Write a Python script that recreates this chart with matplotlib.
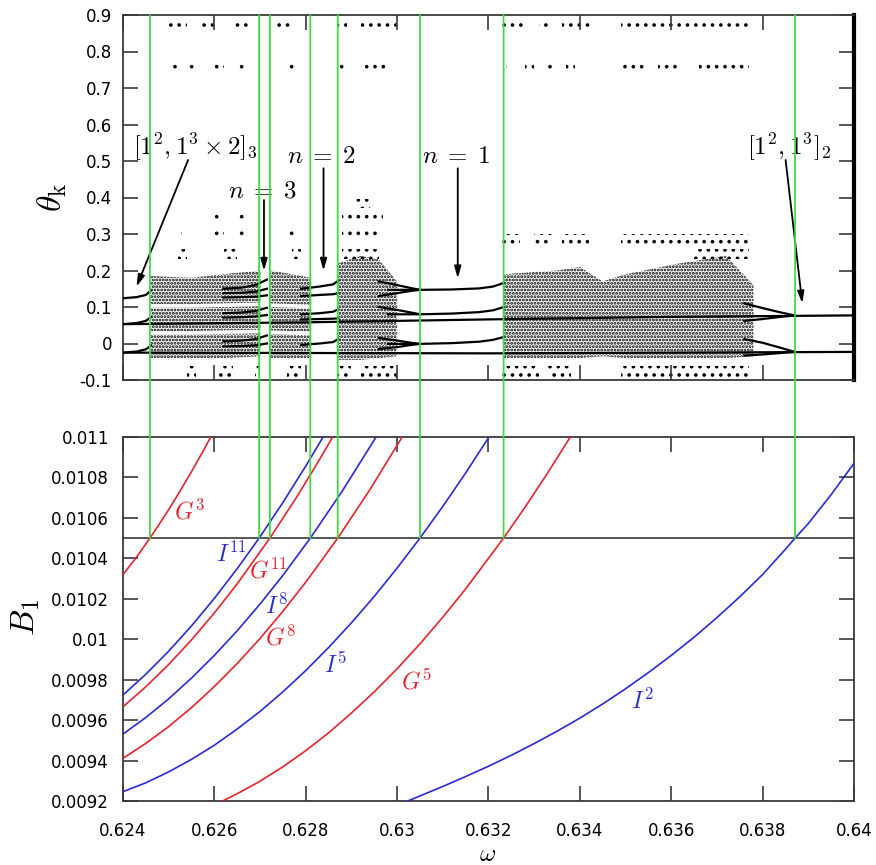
import numpy as np
import matplotlib
matplotlib.use('Agg')
import matplotlib.pyplot as plt
from matplotlib.patches import ConnectionPatch

plt.rcParams['mathtext.fontset'] = 'cm'
plt.rcParams['font.family'] = 'DejaVu Sans'
plt.rcParams['hatch.linewidth'] = 1.4

# ---------------- bottom panel: bifurcation curves (omega, B1) ----------------
g3_w = [0.6240, 0.62425, 0.6245, 0.62475, 0.6250, 0.62525, 0.6255, 0.62575, 0.62592]
g3_b = [0.01032, 0.010392, 0.010471, 0.010554, 0.010641, 0.010733, 0.010829, 0.010929, 0.01100]
i11_w = [0.6240, 0.6245, 0.6250, 0.6255, 0.6260, 0.6265, 0.62698, 0.6275, 0.6280, 0.62838]
i11_b = [0.009724, 0.009827, 0.009941, 0.010066, 0.010202, 0.010349, 0.0105, 0.010676, 0.010856, 0.011]
g11_w = [0.6240, 0.6245, 0.6250, 0.6255, 0.6260, 0.6265, 0.627215, 0.6278, 0.6282, 0.62859]
g11_b = [0.009666, 0.009765, 0.009875, 0.009997, 0.010130, 0.010274, 0.0105, 0.010702, 0.01085, 0.011]
i8_w = [0.6240, 0.6245, 0.6250, 0.6255, 0.6260, 0.6265, 0.6270, 0.6275, 0.6281, 0.6288, 0.62954]
i8_b = [0.009531, 0.009613, 0.009705, 0.009808, 0.009920, 0.010042, 0.010174, 0.010316, 0.0105,
        0.010733, 0.011]
g8_w = [0.6240, 0.6245, 0.6250, 0.6255, 0.6260, 0.6265, 0.6270, 0.6275, 0.6280, 0.6287, 0.6294, 0.63011]
g8_b = [0.009411, 0.009485, 0.009568, 0.009662, 0.009766, 0.00988, 0.010004, 0.010138, 0.010282,
        0.0105, 0.010738, 0.011]
i5_w = [0.6240, 0.6245, 0.6250, 0.6255, 0.6260, 0.6265, 0.6270, 0.6275, 0.6280, 0.6285, 0.6290,
        0.6295, 0.6300, 0.6305, 0.6310, 0.6315, 0.63201]
i5_b = [0.009246, 0.00929, 0.009344, 0.009406, 0.009476, 0.009556, 0.009643, 0.00974, 0.009845,
        0.009959, 0.010081, 0.010212, 0.010352, 0.0105, 0.010657, 0.010822, 0.011]
g5_w = [0.62618, 0.6265, 0.6270, 0.6275, 0.6280, 0.6285, 0.6290, 0.6295, 0.6300, 0.6305, 0.6310,
        0.6315, 0.63233, 0.6328, 0.6333, 0.63379]
g5_b = [0.0092, 0.009236, 0.009298, 0.009369, 0.009449, 0.009537, 0.009635, 0.00974, 0.009854,
        0.009977, 0.010109, 0.010249, 0.0105, 0.010653, 0.010824, 0.011]
i2_w = [0.63023, 0.6305, 0.6310, 0.6315, 0.6320, 0.6325, 0.6330, 0.6335, 0.6340, 0.6345, 0.6350,
        0.6355, 0.6360, 0.6365, 0.6370, 0.6375, 0.6380, 0.6385, 0.63871, 0.6390, 0.6395, 0.6400]
i2_b = [0.0092, 0.009225, 0.009272, 0.009321, 0.009372, 0.009426, 0.009484, 0.009545, 0.00961,
        0.00968, 0.009755, 0.009835, 0.00992, 0.01001, 0.010107, 0.01021, 0.01032, 0.010445,
        0.0105, 0.010572, 0.010715, 0.01087]

b_level = 0.0105
crossings = [0.62459, 0.62698, 0.627215, 0.6281, 0.6287, 0.6305, 0.63233, 0.63871]

curve_labels = ['$G^3$', '$I^{11}$', '$G^{11}$', '$I^8$', '$G^8$', '$I^5$', '$G^5$', '$I^2$']
label_w = [0.62545, 0.62636, 0.62718, 0.62736, 0.62746, 0.62865, 0.63043, 0.63536]
label_b = [0.010629, 0.010421, 0.010337, 0.010164, 0.010009, 0.009873, 0.009791, 0.009695]

# ---------------- top panel: periodic branches (omega, theta) ----------------
long_w = [0.6240, 0.6280, 0.6320, 0.6360, 0.6400]
long_theta = [[0.053, 0.058, 0.066, 0.073, 0.077],
              [-0.025, -0.026, -0.027, -0.025, -0.023]]

winA_w = [0.6240, 0.6243, 0.6245, 0.62461]
winA_theta = [[0.124, 0.127, 0.133, 0.145],
              [0.053, 0.056, 0.062, 0.072],
              [-0.025, -0.022, -0.016, -0.006]]

win3_w = [0.6262, 0.6266, 0.6269, 0.62715]
win3_theta = [[0.150, 0.153, 0.160, 0.175],
              [0.138, 0.139, 0.142, 0.150],
              [0.126, 0.127, 0.128, 0.132],
              [0.083, 0.085, 0.089, 0.098],
              [0.071, 0.072, 0.074, 0.078],
              [0.006, 0.008, 0.012, 0.022],
              [-0.008, -0.007, -0.005, 0.000]]

win2_w = [0.6279, 0.6283, 0.6286, 0.62871]
win2_theta = [[0.150, 0.156, 0.162, 0.172],
              [0.130, 0.133, 0.135, 0.138],
              [0.080, 0.083, 0.087, 0.094],
              [0.066, 0.067, 0.068, 0.069],
              [-0.004, 0.000, 0.004, 0.012]]

win1_w = [0.6298, 0.6305, 0.6312, 0.6318, 0.6321, 0.63234]
win1_theta = [[0.147, 0.147, 0.148, 0.151, 0.156, 0.166],
              [0.080, 0.080, 0.082, 0.086, 0.091, 0.100],
              [-0.001, -0.001, 0.001, 0.005, 0.010, 0.018]]

fan1_w = [0.6296, 0.6300, 0.6303, 0.6305]
fan1_theta = [[0.170, 0.160, 0.152, 0.147],
              [0.130, 0.138, 0.144, 0.147],
              [0.100, 0.092, 0.085, 0.080],
              [0.015, 0.008, 0.002, -0.001],
              [-0.015, -0.010, -0.004, -0.001]]

fan2_w = [0.6376, 0.6380, 0.6384, 0.6387]
fan2_theta = [[0.110, 0.097, 0.085, 0.077],
              [0.062, 0.067, 0.073, 0.077],
              [0.012, 0.002, -0.012, -0.023],
              [-0.033, -0.030, -0.026, -0.023]]

# chaotic bands (omega, lower theta, upper theta); left bands split in three sub-bands
chaosB_w = [0.62461, 0.6255, 0.6262, 0.62701]
chaosB_sub = [([0.108, 0.108, 0.110, 0.112], [0.185, 0.180, 0.190, 0.200]),
              ([0.034, 0.034, 0.036, 0.038], [0.098, 0.098, 0.100, 0.102]),
              ([-0.040, -0.040, -0.040, -0.035], [0.024, 0.024, 0.026, 0.028])]
chaosD_w = [0.62722, 0.6277, 0.62812]
chaosD_sub = [([0.110, 0.108, 0.106], [0.200, 0.190, 0.180]),
              ([0.036, 0.034, 0.034], [0.100, 0.098, 0.096]),
              ([-0.040, -0.040, -0.040], [0.026, 0.024, 0.022])]
chaosF_w = [0.62871, 0.6292, 0.6296, 0.6300]
chaosF_lo = [-0.045, -0.045, -0.040, -0.035]
chaosF_hi = [0.220, 0.240, 0.230, 0.170]
chaosG_w = [0.63234, 0.6335, 0.6340, 0.6345, 0.6350, 0.6362, 0.6372, 0.6378]
chaosG_lo = [-0.040, -0.040, -0.040, -0.035, -0.040, -0.040, -0.040, -0.035]
chaosG_hi = [0.190, 0.200, 0.210, 0.170, 0.190, 0.220, 0.240, 0.160]

# sparse rows of iterates: clusters along omega for each theta strip
row87_w0 = [0.6250, 0.62565, 0.6264, 0.6273, 0.6287, 0.6292, 0.6323, 0.6331, 0.6336, 0.6349]
row87_w1 = [0.6254, 0.6261, 0.6268, 0.6277, 0.6289, 0.6300, 0.6328, 0.6334, 0.6343, 0.6377]
row87_t = (0.862, 0.888)
row75_w0 = [0.6251, 0.6254, 0.6259, 0.6265, 0.6276, 0.6287, 0.6293, 0.6323, 0.6328, 0.6333,
            0.6337, 0.6349, 0.6357, 0.6366]
row75_w1 = [0.6252, 0.6256, 0.6262, 0.6267, 0.6278, 0.6289, 0.6298, 0.6324, 0.6330, 0.6334,
            0.6339, 0.6354, 0.6362, 0.6377]
row75_t = (0.740, 0.770)
rowm8_w0 = [0.6254, 0.6261, 0.6269, 0.6276, 0.6287, 0.6292, 0.6323, 0.6333, 0.6349]
rowm8_w1 = [0.6256, 0.6264, 0.6270, 0.6279, 0.6290, 0.6300, 0.6331, 0.6338, 0.6377]
rowm8_t = (-0.095, -0.062)
row28_w0 = [0.6323, 0.6330, 0.6336, 0.6349]
row28_w1 = [0.6327, 0.6334, 0.6342, 0.6377]
row28_t = (0.265, 0.300)
row38_w0 = [0.6291]
row38_w1 = [0.6294]
row38_t = (0.370, 0.395)
row34_w0 = [0.6259, 0.6265, 0.6288]
row34_w1 = [0.6261, 0.6267, 0.6297]
row34_t = (0.330, 0.355)
row30_w0 = [0.6252, 0.6259, 0.6265, 0.6276, 0.6288]
row30_w1 = [0.6253, 0.6262, 0.6267, 0.6278, 0.6296]
row30_t = (0.285, 0.312)
row25_w0 = [0.6252, 0.6262, 0.6277, 0.6288, 0.6365]
row25_w1 = [0.6254, 0.6265, 0.6279, 0.6296, 0.6377]
row25_t = (0.232, 0.258)

# ---------------- figure ----------------
fig = plt.figure(figsize=(8.76, 8.65), dpi=100)
L, W = 123 / 876, 731 / 876
ax1 = fig.add_axes([L, (865 - 380) / 865, W, 365 / 865])
ax2 = fig.add_axes([L, (865 - 801) / 865, W, 364 / 865])

spine_c = '#3a3a3a'
green = '#45d845'
red = '#e3242b'
blue = '#2a2ad6'


def strip(ax, w0s, w1s, tt, hatch):
    for a, b in zip(w0s, w1s):
        ax.fill_between([a, b], [tt[0], tt[0]], [tt[1], tt[1]], facecolor='none',
                        edgecolor='black', hatch=hatch, linewidth=0, zorder=1)


for w0s, w1s, tt in [(row87_w0, row87_w1, row87_t), (row75_w0, row75_w1, row75_t),
                     (rowm8_w0, rowm8_w1, rowm8_t), (row28_w0, row28_w1, row28_t),
                     (row38_w0, row38_w1, row38_t), (row34_w0, row34_w1, row34_t),
                     (row30_w0, row30_w1, row30_t), (row25_w0, row25_w1, row25_t)]:
    strip(ax1, w0s, w1s, tt, '..')

bands = [(chaosB_w, lo, hi) for lo, hi in chaosB_sub]
bands += [(chaosD_w, lo, hi) for lo, hi in chaosD_sub]
bands += [(chaosF_w, chaosF_lo, chaosF_hi), (chaosG_w, chaosG_lo, chaosG_hi)]
for w, lo, hi in bands:
    ax1.fill_between(w, lo, hi, facecolor='none', edgecolor='black',
                     hatch='.....', linewidth=0, zorder=1)

for w, rows in [(long_w, long_theta), (winA_w, winA_theta), (win3_w, win3_theta),
                (win2_w, win2_theta), (win1_w, win1_theta), (fan1_w, fan1_theta),
                (fan2_w, fan2_theta)]:
    for r in rows:
        ax1.plot(w, r, color='black', lw=1.6, zorder=3)

ax1.set_xlim(0.624, 0.640)
ax1.set_ylim(-0.1, 0.9)
yt = np.round(np.arange(-0.1, 0.91, 0.1), 1)
ax1.set_yticks(yt)
ax1.set_yticklabels(['-0.1', '0', '0.1', '0.2', '0.3', '0.4', '0.5', '0.6', '0.7', '0.8', '0.9'])
ax1.set_xticks(np.arange(0.624, 0.6401, 0.002))
ax1.tick_params(axis='both', direction='in', length=11, width=1.2, colors=spine_c,
                top=True, right=True, labelbottom=False, labelsize=12, pad=8)
ax1.tick_params(axis='y', labelcolor='black')
for s in ax1.spines.values():
    s.set_color(spine_c)
    s.set_linewidth(1.3)
ax1.spines['right'].set_color('black')
ax1.spines['right'].set_linewidth(3.0)

# annotations in top panel
arrow_kw = dict(arrowstyle='-|>,head_length=0.7,head_width=0.2', color='black', lw=1.3,
                shrinkA=0, shrinkB=0)
tfs = 18
ax1.text(0.625585, 0.538, r'$[1^2,1^3\times 2]_3$', fontsize=tfs, ha='center', va='center')
ax1.annotate('', xy=(0.624295, 0.1556), xytext=(0.625425, 0.5027), arrowprops=arrow_kw)
ax1.text(0.62705, 0.4205, r'$n\;=\;3$', fontsize=tfs, ha='center', va='center')
ax1.annotate('', xy=(0.627086, 0.1995), xytext=(0.627086, 0.393), arrowprops=arrow_kw)
ax1.text(0.628339, 0.5137, r'$n\;=\;2$', fontsize=tfs, ha='center', va='center')
ax1.annotate('', xy=(0.628389, 0.1995), xytext=(0.628389, 0.48), arrowprops=arrow_kw)
ax1.text(0.63129, 0.514, r'$n\;=\;1$', fontsize=tfs, ha='center', va='center')
ax1.annotate('', xy=(0.631327, 0.1786), xytext=(0.631327, 0.48), arrowprops=arrow_kw)
ax1.text(0.638568, 0.538, r'$[1^2,1^3]_2$', fontsize=tfs, ha='center', va='center')
ax1.annotate('', xy=(0.638868, 0.1101), xytext=(0.638503, 0.5027), arrowprops=arrow_kw)

# bottom panel
curves = [(g3_w, g3_b, red), (i11_w, i11_b, blue), (g11_w, g11_b, red), (i8_w, i8_b, blue),
          (g8_w, g8_b, red), (i5_w, i5_b, blue), (g5_w, g5_b, red), (i2_w, i2_b, blue)]
for w, b, c in curves:
    ax2.plot(w, b, color=c, lw=1.2, zorder=3)
ax2.axhline(b_level, color=spine_c, lw=1.2, zorder=2)
for lab, lw_, lb, (_, _, c) in zip(curve_labels, label_w, label_b, curves):
    ax2.text(lw_, lb, lab, color=c, fontsize=17, ha='center', va='center')

ax2.set_xlim(0.624, 0.640)
ax2.set_ylim(0.0092, 0.011)
ax2.set_xticks(np.arange(0.624, 0.6401, 0.002))
ax2.set_xticklabels(['0.624', '0.626', '0.628', '0.63', '0.632', '0.634', '0.636', '0.638', '0.64'])
ax2.set_yticks(np.arange(0.0092, 0.01101, 0.0002))
ax2.set_yticklabels(['0.0092', '0.0094', '0.0096', '0.0098', '0.01', '0.0102', '0.0104',
                     '0.0106', '0.0108', '0.011'])
ax2.tick_params(axis='both', direction='in', length=11, width=1.2, colors=spine_c,
                top=True, right=True, labelsize=12, labelcolor='black')
ax2.tick_params(axis='x', pad=15)
ax2.tick_params(axis='y', pad=10)
for s in ax2.spines.values():
    s.set_color(spine_c)
    s.set_linewidth(1.3)

# green connectors
for wc in crossings:
    con = ConnectionPatch(xyA=(wc, 0.9), coordsA=ax1.transData,
                          xyB=(wc, b_level), coordsB=ax2.transData,
                          color=green, lw=1.3, zorder=5)
    fig.add_artist(con)

# axis labels
fig.text(52.5 / 876, 1 - 197 / 865, r'$\theta_{\rm k}$', fontsize=24, rotation=90,
         ha='center', va='center')
fig.text(26 / 876, 1 - 617 / 865, r'$B_1$', fontsize=24, rotation=90,
         ha='center', va='center')
fig.text(488 / 876, 1 - 861 / 865, r'$\omega$', fontsize=18, ha='center', va='baseline')

fig.savefig('out.png', dpi=100)
